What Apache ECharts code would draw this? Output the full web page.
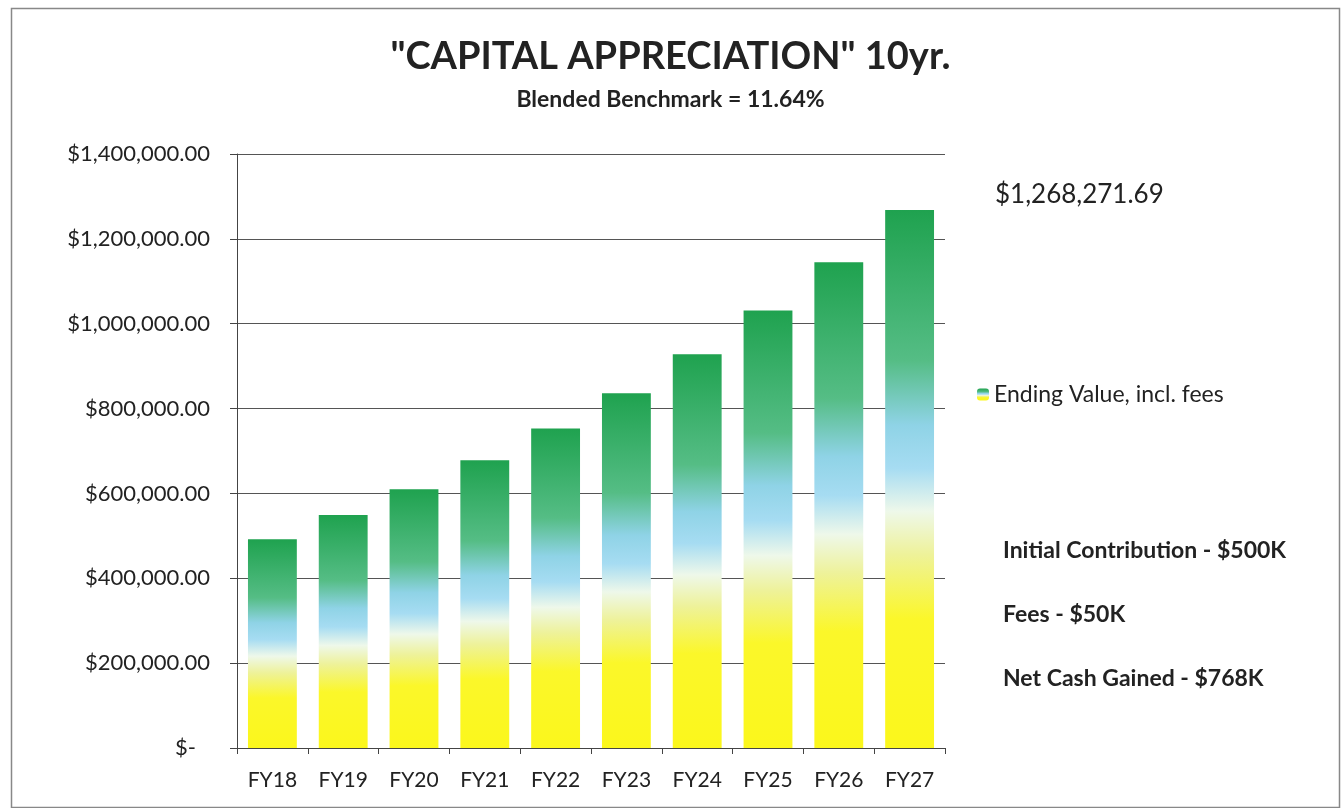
<!DOCTYPE html>
<html lang="en">
<head>
    <meta charset="UTF-8">
    <title>Capital Appreciation</title>
    <script type="text/javascript" src="https://cdn.jsdelivr.net/npm/echarts@6/dist/echarts.min.js"></script>
</head>
<body style="margin:0;background:#fff">
<div id="chart" style="width:1341px;height:808px"></div>
<script type="text/javascript">
    var years = ['FY18', 'FY19', 'FY20', 'FY21', 'FY22', 'FY23', 'FY24', 'FY25', 'FY26', 'FY27'];
    var endingValue = [492000, 549000, 610000, 678000, 753000, 836000, 928000, 1031000, 1145000, 1268271.69];
    var notes = ['Initial Contribution - $500K', 'Fees - $50K', 'Net Cash Gained - $768K'];
    var finalLabel = '$1,268,271.69';

    var font = 'Lato';
    var myChart = echarts.init(document.getElementById('chart'));

    // bar gradient: yellow at bottom, pale, light blue, green at top
    var barFill = new echarts.graphic.LinearGradient(0, 1, 0, 0, [
        {offset: 0, color: '#fbf71c'},
        {offset: 0.24, color: '#fbf72a'},
        {offset: 0.36, color: '#eef29a'},
        {offset: 0.44, color: '#eef8ea'},
        {offset: 0.52, color: '#a6dcf2'},
        {offset: 0.60, color: '#8fd3e6'},
        {offset: 0.72, color: '#55bd85'},
        {offset: 1, color: '#1fa24f'}
    ]);

    function money(v) {
        if (v === 0) return '{z|$-}';
        return '$' + v.toLocaleString('en-US', {minimumFractionDigits: 2, maximumFractionDigits: 2});
    }

    var noteText = notes.map(function (t, i) {
        return {
            type: 'text', left: 1003, top: 539 + i * 64,
            style: {text: t, font: 'bold 23px ' + font, fill: '#222'}
        };
    });

    myChart.setOption({
        backgroundColor: '#fff',
        title: {
            text: '"CAPITAL APPRECIATION" 10yr.',
            subtext: 'Blended Benchmark = 11.64%',
            left: 'center',
            top: 33,
            itemGap: 12,
            textStyle: {fontFamily: font, fontWeight: 'bold', fontSize: 38, color: '#222'},
            subtextStyle: {fontFamily: font, fontWeight: 'bold', fontSize: 23, color: '#222'}
        },
        legend: {
            data: ['Ending Value, incl. fees'],
            left: 972,
            top: 378,
            itemWidth: 12,
            itemHeight: 12,
            itemGap: 6,
            textStyle: {fontFamily: font, fontSize: 23, color: '#222'}
        },
        grid: {left: 237, right: 396, top: 154, bottom: 60},
        xAxis: {
            type: 'category',
            data: years,
            axisLine: {lineStyle: {color: '#444'}},
            axisTick: {show: true, length: 6, lineStyle: {color: '#444'}},
            axisLabel: {fontFamily: font, fontSize: 21, color: '#222', margin: 22}
        },
        yAxis: {
            type: 'value',
            min: 0,
            max: 1400000,
            interval: 200000,
            axisLine: {show: true, lineStyle: {color: '#444'}},
            axisTick: {show: true, length: 7, lineStyle: {color: '#444'}},
            splitLine: {lineStyle: {color: '#555', width: 1}},
            axisLabel: {
                fontFamily: font, fontSize: 22, color: '#222', margin: 27,
                formatter: money,
                rich: {z: {fontFamily: font, fontSize: 22, color: '#222', padding: [0, 14, 0, 0]}}
            }
        },
        series: [{
            name: 'Ending Value, incl. fees',
            type: 'bar',
            data: endingValue,
            barCategoryGap: '31%',
            itemStyle: {color: barFill}
        }],
        graphic: [
            {
                type: 'rect', left: 9, top: 6, z: -1,
                shape: {width: 1328, height: 799},
                style: {fill: 'none', stroke: '#888', lineWidth: 1.5}
            },
            {
                type: 'text', left: 995, top: 182,
                style: {text: finalLabel, font: '26px ' + font, fill: '#222'}
            }
        ].concat(noteText)
    });
</script>
</body>
</html>
